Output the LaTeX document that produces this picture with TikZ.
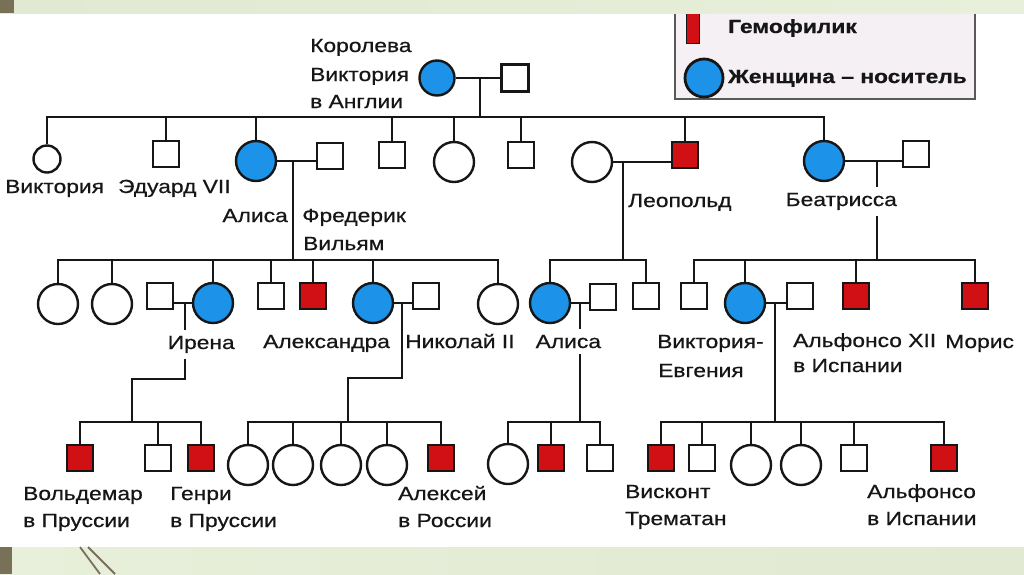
\documentclass[tikz,border=0pt]{standalone}
\usepackage{fontspec}
\setmainfont[FakeStretch=1.2,FakeBold=0.6]{Liberation Sans}
\newcommand\lblfont{\fontsize{19}{23}\selectfont}
\definecolor{hemoRed}{RGB}{208,16,20}
\definecolor{carBlue}{RGB}{28,146,232}
\definecolor{ink}{RGB}{22,22,22}
\definecolor{bandL}{RGB}{226,233,210}
\definecolor{bandR}{RGB}{232,239,218}
\definecolor{oliveDark}{RGB}{120,113,88}
\definecolor{legBg}{RGB}{244,240,243}
\tikzset{
  kin/.style={line width=2.5pt, draw=ink},
  male/.style={rectangle, draw=ink, line width=2.4pt, fill=white, minimum size=26pt, inner sep=0pt},
  hemoM/.style={male, fill=hemoRed},
  fem/.style={circle, draw=ink, line width=2.4pt, fill=white, minimum size=40pt, inner sep=0pt},
  carF/.style={fem, fill=carBlue},
  lbl/.style={font=\lblfont, inner sep=0pt, text=ink, anchor=base west},
  cover/.style={fill=white, inner xsep=0.5pt, inner ysep=6pt},
  leg/.style={font=\lblfont\bfseries, inner sep=0pt, text=ink, anchor=base west},
}
\begin{document}
\begin{tikzpicture}[x=1pt,y=-1pt]
\useasboundingbox (0,0) rectangle (1024,574);
\fill[white] (0,0) rectangle (1024,574);

% legend
\draw[fill=legBg, draw=black!65, line width=1.2pt] (675,4) rectangle (975,99);
\node[rectangle, draw=ink, line width=1.2pt, fill=hemoRed, minimum width=13pt, minimum height=31pt, inner sep=0pt] (legH) at (693,28) {};
\node[leg] (legHt) at (728,33) {Гемофилик};
\node[carF, line width=2.8pt, minimum size=38pt] (legC) at (704,78) {};
\node[leg] (legCt) at (728,83) {Женщина – носитель};

% generation 1
\node[carF, minimum size=35pt] (queen) at (437,78) {};
\node[male, minimum size=27pt] (albert) at (515,78) {};
\coordinate (qm) at (480,78);
\coordinate (g2) at (0,117);
\coordinate (g3) at (0,260);
\coordinate (g4) at (0,422);

% generation 2
\node[fem, minimum size=27pt] (vic) at (47,159) {};
\node[male] (edw) at (166,154) {};
\node[carF] (alice) at (256,161) {};
\node[male] (fred) at (330,156) {};
\node[male] (c4) at (392,155) {};
\node[fem] (c5) at (454,162) {};
\node[male] (c6) at (521,155) {};
\node[fem] (leow) at (592,162) {};
\node[hemoM] (leo) at (685,155) {};
\node[carF] (beat) at (824,161) {};
\node[male] (henry) at (916,154) {};
\coordinate (am) at (293,161);
\coordinate (lm) at (623,162);
\coordinate (bm) at (877,161);

% generation 3
\node[fem] (a1) at (58,304) {};
\node[fem] (a2) at (112,304) {};
\node[male] (irh) at (160,296) {};
\node[carF] (irena) at (213,303) {};
\node[male] (a4) at (271,296) {};
\node[hemoM] (a5) at (313,296) {};
\node[carF] (alex) at (373,303) {};
\node[male] (nic) at (426,296) {};
\node[fem] (a7) at (498,304) {};
\node[carF] (alisa) at (550,303) {};
\node[male] (alh) at (603,297) {};
\node[male] (l2) at (646,296) {};
\node[male] (b1) at (694,296) {};
\node[carF] (ve) at (745,303) {};
\node[male] (alf) at (800,296) {};
\node[hemoM] (b3) at (856,296) {};
\node[hemoM] (maur) at (975,296) {};
\coordinate (irm) at (185,303);
\coordinate (irb) at (132,379);
\coordinate (alm) at (402,303);
\coordinate (alb) at (348,378);
\coordinate (asm) at (580,303);
\coordinate (vem) at (775,303);

% generation 4
\node[hemoM] (wold) at (80,458) {};
\node[male] (i2) at (158,458) {};
\node[hemoM] (genri) at (201,458) {};
\node[fem] (x1) at (248,465) {};
\node[fem] (x2) at (293,465) {};
\node[fem] (x3) at (341,465) {};
\node[fem] (x4) at (387,465) {};
\node[hemoM] (alek) at (441,458) {};
\node[fem] (r1) at (508,464) {};
\node[hemoM] (r2) at (551,458) {};
\node[male] (r3) at (600,458) {};
\node[hemoM] (visk) at (661,458) {};
\node[male] (v2) at (702,458) {};
\node[fem] (v3) at (751,465) {};
\node[fem] (v4) at (801,465) {};
\node[male] (v5) at (854,458) {};
\node[hemoM] (alf2) at (944,458) {};

% connectors: marriages
\draw[kin] (queen.east) -- (queen.east -| albert.west);
\draw[kin] (alice.east) -- (alice.east -| fred.west);
\draw[kin] (leow.east) -- (leow.east -| leo.west);
\draw[kin] (beat.east) -- (beat.east -| henry.west);
\draw[kin] (irena.west) -- (irena.west -| irh.east);
\draw[kin] (alex.east) -- (alex.east -| nic.west);
\draw[kin] (alisa.east) -- (alisa.east -| alh.west);
\draw[kin] (ve.east) -- (ve.east -| alf.west);

% connectors: descent
\draw[kin] (qm) -- (qm |- g2);
\draw[kin] (am) -- (am |- g3);
\draw[kin] (lm) -- (lm |- g3);
\draw[kin] (bm) -- (bm |- g3);
\draw[kin] (irm) -- (irm |- irb) -- (irb) -- (irb |- g4);
\draw[kin] (alm) -- (alm |- alb) -- (alb) -- (alb |- g4);
\draw[kin] (asm) -- (asm |- g4);
\draw[kin] (vem) -- (vem |- g4);

% sibships
\draw[kin] (vic.north) -- (vic.north |- g2) -- (beat.north |- g2) -- (beat.north);
\foreach \n in {edw,alice,c4,c5,c6,leo} \draw[kin] (\n.north) -- (\n.north |- g2);
\draw[kin] (a1.north) -- (a1.north |- g3) -- (a7.north |- g3) -- (a7.north);
\foreach \n in {a2,irena,a4,a5,alex} \draw[kin] (\n.north) -- (\n.north |- g3);
\draw[kin] (alisa.north) -- (alisa.north |- g3) -- (l2.north |- g3) -- (l2.north);
\draw[kin] (b1.north) -- (b1.north |- g3) -- (maur.north |- g3) -- (maur.north);
\foreach \n in {ve,b3} \draw[kin] (\n.north) -- (\n.north |- g3);
\draw[kin] (wold.north) -- (wold.north |- g4) -- (genri.north |- g4) -- (genri.north);
\draw[kin] (i2.north) -- (i2.north |- g4);
\draw[kin] (x1.north) -- (x1.north |- g4) -- (alek.north |- g4) -- (alek.north);
\foreach \n in {x2,x3,x4} \draw[kin] (\n.north) -- (\n.north |- g4);
\draw[kin] (r1.north) -- (r1.north |- g4) -- (r3.north |- g4) -- (r3.north);
\draw[kin] (r2.north) -- (r2.north |- g4);
\draw[kin] (visk.north) -- (visk.north |- g4) -- (alf2.north |- g4) -- (alf2.north);
\foreach \n in {v2,v3,v4,v5} \draw[kin] (\n.north) -- (\n.north |- g4);

% labels
\node[lbl] (tq1) at (310,52) {Королева};
\node[lbl] (tq2) at (310,81) {Виктория};
\node[lbl] (tq3) at (310,108) {в Англии};
\node[lbl] (tvic) at (5,193) {Виктория};
\node[lbl] (tedw) at (118,193) {Эдуард VII};
\node[lbl, anchor=base east] (tal) at (288,222) {Алиса};
\node[lbl] (tfr1) at (302,222) {Фредерик};
\node[lbl] (tfr2) at (303,250) {Вильям};
\node[lbl] (tleo) at (628,207) {Леопольд};
\node[lbl, cover] (tbeat) at (785,206) {Беатрисса};
\node[lbl, cover] (tir) at (167,349) {Ирена};
\node[lbl] (talex) at (263,348) {Александра};
\node[lbl] (tnic) at (405,348) {Николай II};
\node[lbl, cover] (tals) at (535,348) {Алиса};
\node[lbl] (tve1) at (657,348) {Виктория-};
\node[lbl] (tve2) at (658,377) {Евгения};
\node[lbl] (talf1) at (793,347) {Альфонсо XII};
\node[lbl] (talf2) at (793,372) {в Испании};
\node[lbl] (tmaur) at (945,348) {Морис};
\node[lbl] (tw1) at (23,500) {Вольдемар};
\node[lbl] (tw2) at (23,527) {в Пруссии};
\node[lbl] (tg1) at (170,500) {Генри};
\node[lbl] (tg2) at (170,527) {в Пруссии};
\node[lbl] (tak1) at (398,500) {Алексей};
\node[lbl] (tak2) at (398,527) {в России};
\node[lbl] (tvs1) at (625,498) {Висконт};
\node[lbl] (tvs2) at (625,525) {Трематан};
\node[lbl] (taf1) at (867,498) {Альфонсо};
\node[lbl] (taf2) at (867,525) {в Испании};

% slide bands
\shade[left color=bandL, right color=bandR] (0,0) rectangle (1024,13);
\fill[oliveDark] (0,0) rectangle (14,13);
\shade[left color=bandR, right color=bandL] (0,547) rectangle (1024,574);
\fill[oliveDark] (0,547) rectangle (12,574);
\draw[oliveDark, line width=1.8pt] (80,547) -- (100,574);
\draw[oliveDark, line width=1.8pt] (88,547) -- (115,574);
\end{tikzpicture}
\end{document}
